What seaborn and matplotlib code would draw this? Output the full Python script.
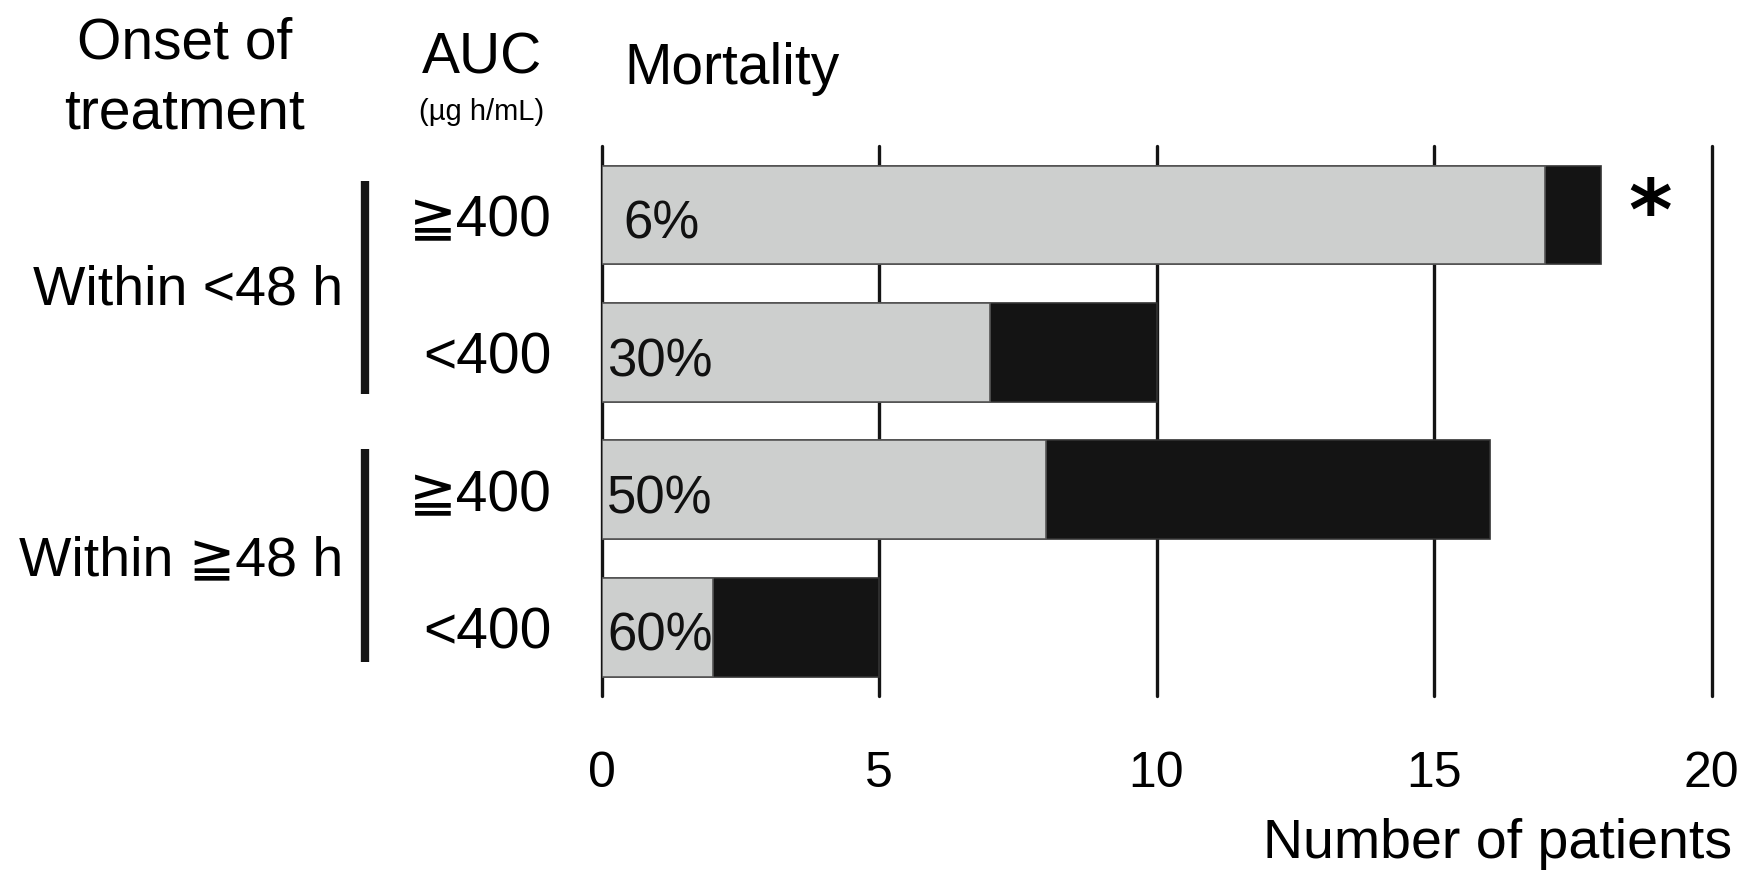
import pandas as pd
import matplotlib.pyplot as plt
import seaborn as sns

# data
rows = ['r0', 'r1', 'r2', 'r3']
auc_labels = ['≧400', '<400', '≧400', '<400']
survived = [17, 7, 8, 2]
died = [1, 3, 8, 3]
mortality = ['6%', '30%', '50%', '60%']
onset_groups = ['Within <48 h', 'Within ≧48 h']
x_ticks = [0, 5, 10, 15, 20]

totals = [s + d for s, d in zip(survived, died)]
df = pd.DataFrame({'row': rows, 'survived': survived, 'total': totals})

sns.set_style('white')
plt.rcParams['font.family'] = ['Liberation Sans', 'DejaVu Sans']
plt.rcParams['text.color'] = 'black'
plt.rcParams['xtick.color'] = 'black'
plt.rcParams['ytick.color'] = 'black'

GRAY = '#cdcfce'
BLACK = '#141414'

fig = plt.figure(figsize=(17.59, 8.71), dpi=100)
ax = fig.add_axes([0.342, 0.201, 0.631, 0.631])

# gridlines behind the bars
for v in x_ticks:
    ax.axvline(v, color=BLACK, lw=2.4, zorder=0, clip_on=False)

sns.barplot(data=df, x='total', y='row', color=BLACK, orient='h', width=0.72,
            edgecolor='#333333', linewidth=1.2, saturation=1, ax=ax, zorder=2)
sns.barplot(data=df, x='survived', y='row', color=GRAY, orient='h', width=0.72,
            edgecolor='#555555', linewidth=1.2, saturation=1, ax=ax, zorder=3)

ax.set_xlim(0, 20)
ax.set_ylim(3.5, -0.5)
ax.set_xticks(x_ticks)
ax.set_xticklabels([str(t) for t in x_ticks], fontsize=36)
ax.set_yticks(range(len(rows)))
ax.set_yticklabels(auc_labels, fontsize=41)
ax.tick_params(axis='x', length=0, pad=40)
ax.tick_params(axis='y', length=0, pad=36)
ax.set_xlabel('')
ax.set_ylabel('')
for s in ax.spines.values():
    s.set_visible(False)

# mortality labels inside the gray bars
for i, m in enumerate(mortality):
    xpos = 0.4 if i == 0 else 0.1
    ax.text(xpos, i + 0.07, m, fontsize=38, va='center', ha='left', color='#111111', zorder=5)

# significance star
ax.text(totals[0] + 0.9, 0.0, '*', fontsize=60, fontweight='bold', ha='center', va='center',
        family=['DejaVu Sans'])

# onset group brackets and labels
ytr = ax.get_yaxis_transform()
for (y0, y1), lab, yc in zip([(-0.25, 1.3), (1.7, 3.25)], onset_groups, [0.55, 2.52]):
    ax.plot([-0.2128, -0.2128], [y0, y1], color=BLACK, lw=6, transform=ytr, clip_on=False,
            solid_capstyle='butt')
    ax.text(-0.2326, yc, lab, fontsize=40, ha='right', va='center', transform=ytr)

# headers
fig.text(0.105, 0.9334, 'Onset of', fontsize=41, ha='center', va='baseline')
fig.text(0.105, 0.852, 'treatment', fontsize=41, ha='center', va='baseline')
fig.text(0.274, 0.916, 'AUC', fontsize=41, ha='center', va='baseline')
fig.text(0.2735, 0.871, '(µg h/mL)', fontsize=21, ha='center', va='center')
fig.text(0.355, 0.9036, 'Mortality', fontsize=41, ha='left', va='baseline')
fig.text(0.985, 0.015, 'Number of patients', fontsize=40, ha='right', va='baseline')

plt.savefig('out.png', dpi=100)
